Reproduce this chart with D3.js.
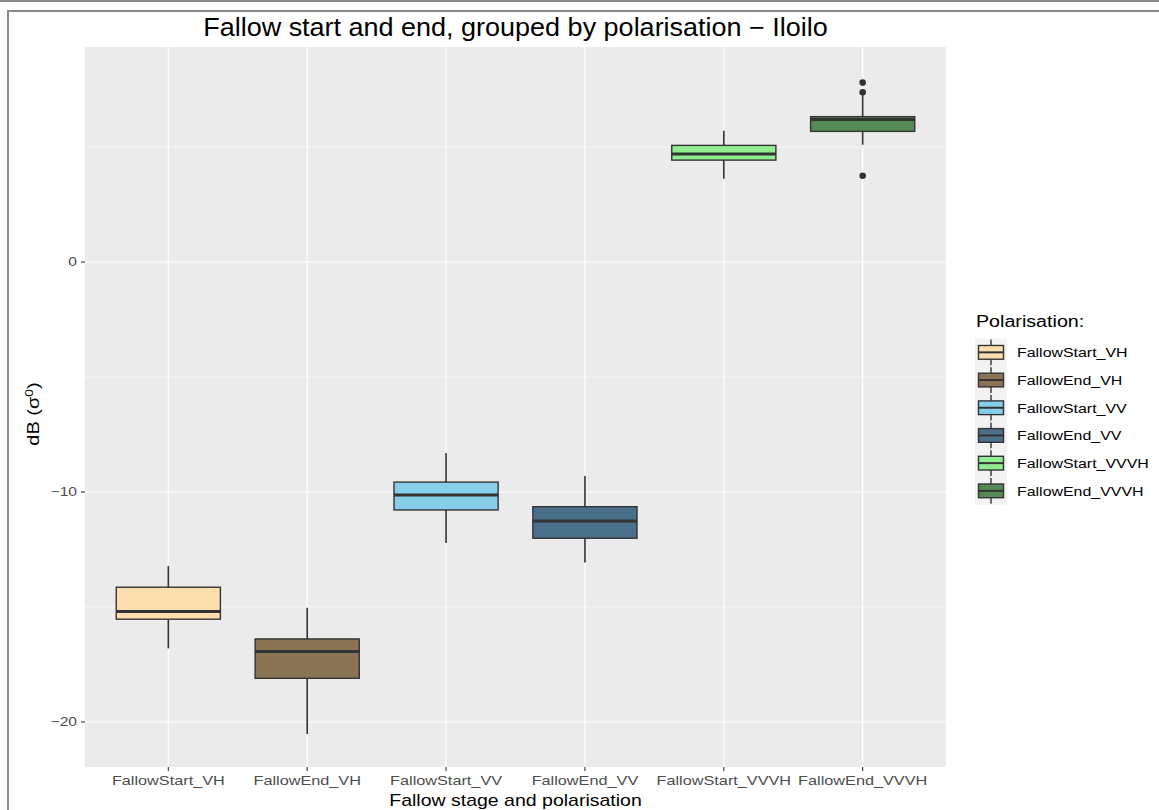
<!DOCTYPE html>
<html>
<head>
<meta charset="utf-8">
<script src="https://cdn.jsdelivr.net/npm/d3@7"></script>
<style>
  body { margin: 0; background: #fff; }
  svg text { font-family: "Liberation Sans", Arial, sans-serif; }
</style>
</head>
<body>
<svg id="chart" width="1159" height="810"></svg>
<script>
// groups, in plot order
const groups = ["FallowStart_VH", "FallowEnd_VH", "FallowStart_VV", "FallowEnd_VV", "FallowStart_VVVH", "FallowEnd_VVVH"]
const fills = ["#FFDEAD", "#8B7355", "#87CEEB", "#4A708B", "#90EE90", "#548B54"]

// box stats (dB)
const lowerWhisker = [-16.80, -20.52, -12.22, -13.07, 3.62, 5.10]
const q1 = [-15.53, -18.10, -10.78, -12.01, 4.43, 5.68]
const median = [-15.20, -16.94, -10.13, -11.26, 4.70, 6.20]
const q3 = [-14.14, -16.39, -9.57, -10.64, 5.07, 6.32]
const upperWhisker = [-13.22, -15.03, -8.30, -9.30, 5.71, 7.26]
const outliers = [[], [], [], [], [], [7.80, 7.38, 3.75]]

const yTicks = [-20, -10, 0]
const yMinor = [-15, -5, 5]

const margin = {left: 85, right: 213, top: 47, bottom: 43}
const width = 1159, height = 810
const svg = d3.select("#chart")

// the source picture is stretched sideways, so text gets a horizontal scale
function label(parent, x, y, txt, size, k, anchor) {
  return parent.append("text")
    .attr("transform", `translate(${x},${y}) scale(${k},1)`)
    .attr("text-anchor", anchor || "start")
    .style("font-size", size + "px")
    .text(txt)
}

// outer frame like the screenshot
svg.append("rect").attr("x", 0).attr("y", 0).attr("width", width).attr("height", 2).attr("fill", "#8a8a8a")
svg.append("line").attr("x1", 7.5).attr("x2", width).attr("y1", 11).attr("y2", 11)
  .attr("stroke", "#8a8a8a").attr("stroke-width", 2)
svg.append("line").attr("x1", 8).attr("x2", 8).attr("y1", 10).attr("y2", height)
  .attr("stroke", "#8a8a8a").attr("stroke-width", 2)

const x = d3.scalePoint()
  .domain(groups)
  .range([margin.left, width - margin.right])
  .padding(0.6)

// 0 -> 262, -10 -> 492
const y = d3.scaleLinear()
  .domain([9.348, -21.957])
  .range([margin.top, height - margin.bottom])

const boxW = x.step() * 0.75

const panel = svg.append("g")
panel.append("rect")
  .attr("x", margin.left).attr("y", margin.top)
  .attr("width", width - margin.left - margin.right)
  .attr("height", height - margin.top - margin.bottom)
  .attr("fill", "#EBEBEB")

panel.selectAll(".minor").data(yMinor).join("line")
  .attr("x1", margin.left).attr("x2", width - margin.right)
  .attr("y1", d => y(d)).attr("y2", d => y(d))
  .attr("stroke", "#fff").attr("stroke-width", 0.6)

panel.selectAll(".major-y").data(yTicks).join("line")
  .attr("x1", margin.left).attr("x2", width - margin.right)
  .attr("y1", d => y(d)).attr("y2", d => y(d))
  .attr("stroke", "#fff").attr("stroke-width", 1.2)

panel.selectAll(".major-x").data(groups).join("line")
  .attr("x1", d => x(d)).attr("x2", d => x(d))
  .attr("y1", margin.top).attr("y2", height - margin.bottom)
  .attr("stroke", "#fff").attr("stroke-width", 1.2)

// boxes
const boxes = panel.selectAll(".box").data(groups).join("g")
boxes.append("line")
  .attr("x1", d => x(d)).attr("x2", d => x(d))
  .attr("y1", (d, i) => y(upperWhisker[i])).attr("y2", (d, i) => y(q3[i]))
  .attr("stroke", "#333").attr("stroke-width", 1.6)
boxes.append("line")
  .attr("x1", d => x(d)).attr("x2", d => x(d))
  .attr("y1", (d, i) => y(q1[i])).attr("y2", (d, i) => y(lowerWhisker[i]))
  .attr("stroke", "#333").attr("stroke-width", 1.6)
boxes.append("rect")
  .attr("x", d => x(d) - boxW / 2)
  .attr("y", (d, i) => y(q3[i]))
  .attr("width", boxW)
  .attr("height", (d, i) => y(q1[i]) - y(q3[i]))
  .attr("fill", (d, i) => fills[i])
  .attr("stroke", "#333").attr("stroke-width", 1.4)
boxes.append("line")
  .attr("x1", d => x(d) - boxW / 2).attr("x2", d => x(d) + boxW / 2)
  .attr("y1", (d, i) => y(median[i])).attr("y2", (d, i) => y(median[i]))
  .attr("stroke", "#333").attr("stroke-width", 3)
boxes.each(function(d, i) {
  d3.select(this).selectAll("circle").data(outliers[i]).join("circle")
    .attr("cx", x(d)).attr("cy", v => y(v)).attr("r", 3.3)
    .attr("fill", "#333")
})

// y axis
const yAxis = svg.append("g")
yAxis.selectAll("line").data(yTicks).join("line")
  .attr("x1", margin.left - 4).attr("x2", margin.left)
  .attr("y1", d => y(d)).attr("y2", d => y(d))
  .attr("stroke", "#333").attr("stroke-width", 1.1)
yTicks.forEach(d => {
  label(yAxis, margin.left - 8, y(d) + 4.5, d < 0 ? "\u2212" + Math.abs(d) : String(d), 12.5, 1.25, "end")
    .attr("fill", "#4D4D4D")
})

// x axis
const xAxis = svg.append("g").attr("transform", `translate(0,${height - margin.bottom})`)
xAxis.selectAll("line").data(groups).join("line")
  .attr("x1", d => x(d)).attr("x2", d => x(d)).attr("y1", 0).attr("y2", 4)
  .attr("stroke", "#333").attr("stroke-width", 1.1)
groups.forEach(g => {
  label(xAxis, x(g), 18, g, 12.8, 1.27, "middle").attr("fill", "#4D4D4D")
})

// titles
const midX = margin.left + (width - margin.left - margin.right) / 2
label(svg, midX, 36, "Fallow start and end, grouped by polarisation \u2212 Iloilo", 25, 1.08, "middle")
  .attr("fill", "#000")
label(svg, midX, 806, "Fallow stage and polarisation", 16, 1.22, "middle").attr("fill", "#000")
const yl = svg.append("text")
  .attr("transform", `translate(39,${(margin.top + height - margin.bottom) / 2 + 7}) rotate(-90) scale(1.25,1)`)
  .attr("text-anchor", "middle").style("font-size", "16px").attr("fill", "#000")
yl.append("tspan").text("dB (\u03c3")
yl.append("tspan").attr("dy", -6).style("font-size", "11px").text("0")
yl.append("tspan").attr("dy", 6).text(")")

// legend
const legend = svg.append("g").attr("transform", "translate(975,0)")
label(legend, 1, 327, "Polarisation:", 16, 1.23).attr("fill", "#000")
const keyH = 27.7, keyTop = 338.5
const keys = legend.selectAll(".key").data(groups).join("g")
  .attr("transform", (d, i) => `translate(0,${keyTop + i * keyH})`)
keys.append("rect").attr("width", 32).attr("height", keyH).attr("fill", "#F2F2F2")
keys.append("line").attr("x1", 16).attr("x2", 16).attr("y1", 1).attr("y2", keyH - 1)
  .attr("stroke", "#333").attr("stroke-width", 1.4)
keys.append("rect").attr("x", 3.5).attr("y", 7).attr("width", 25).attr("height", keyH - 14)
  .attr("fill", (d, i) => fills[i]).attr("stroke", "#333").attr("stroke-width", 1.4)
keys.append("line").attr("x1", 3.5).attr("x2", 28.5).attr("y1", keyH / 2).attr("y2", keyH / 2)
  .attr("stroke", "#333").attr("stroke-width", 2)
keys.each(function(d) {
  label(d3.select(this), 42, keyH / 2 + 5, d, 13.5, 1.18).attr("fill", "#000")
})
</script>
</body>
</html>
